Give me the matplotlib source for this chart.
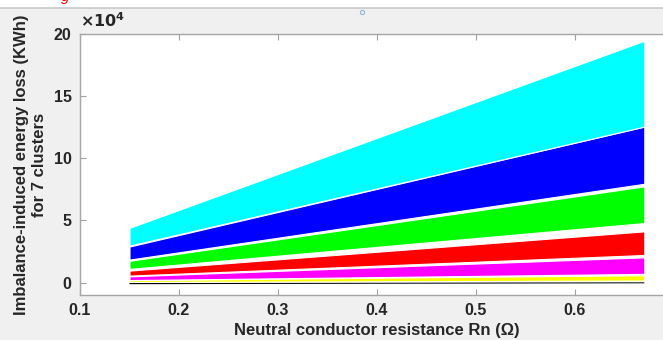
import matplotlib
matplotlib.use("Agg")
import matplotlib.pyplot as plt
from matplotlib.ticker import FuncFormatter
from matplotlib.lines import Line2D

# Neutral conductor resistance (Ohm)
rn = [0.15, 0.67]

# Energy-loss band boundaries (kWh) for each cluster, at rn endpoints
cluster_colors = ["black", "yellow", "magenta", "red", "lime", "blue", "cyan"]
lower = [
    [-1300, -600],    # black
    [500, 1600],      # yellow
    [2000, 7000],     # magenta
    [5600, 22200],    # red
    [11000, 47900],   # green
    [18500, 79500],   # blue
    [29700, 125500],  # cyan
]
upper = [
    [-300, 200],      # black
    [2000, 5900],     # yellow
    [5000, 20300],    # magenta
    [9600, 41200],    # red
    [17500, 77400],   # green
    [29000, 125500],  # blue
    [44000, 194600],  # cyan
]

xticks = [0.1, 0.2, 0.3, 0.4, 0.5, 0.6]
yticks = [0, 50000, 100000, 150000, 200000]

plt.rcParams["font.family"] = ["Liberation Sans", "DejaVu Sans"]
plt.rcParams["font.weight"] = "bold"

fig = plt.figure(figsize=(6.63, 3.40), dpi=100, facecolor="#f0f0f0")

# white top strip with separator line
fig.patches.append(plt.Rectangle((0, 1 - 7.5 / 340), 1, 7.5 / 340, transform=fig.transFigure,
                                 facecolor="white", edgecolor="none", zorder=0))
fig.lines.append(Line2D([0, 1], [1 - 7.5 / 340] * 2, transform=fig.transFigure,
                        color="#c8c8c8", lw=1.2))
fig.text(0.092, 1 - 1.0 / 340, "g", color="red", fontsize=11, fontstyle="italic",
         fontweight="normal", ha="left", va="baseline")
fig.lines.append(Line2D([362 / 663], [1 - 12 / 340], transform=fig.transFigure,
                        marker="o", ms=3, mfc="none", mec="#8fb4d9", mew=0.8))

ax = fig.add_axes([80 / 663, 45 / 340, 594 / 663, 261 / 340])
ax.set_facecolor("white")

for i, (c, lo, hi) in enumerate(zip(cluster_colors, lower, upper)):
    if c == "black":
        ax.fill_between(rn, lo, hi, facecolor=c, edgecolor="none", linewidth=0)
    else:
        ax.fill_between(rn, lo, hi, facecolor=c, edgecolor="white", linewidth=0.8)

ax.set_xlim(0.1, 0.7)
ax.set_ylim(-10000, 200000)
ax.set_xticks(xticks)
ax.set_yticks(yticks)
ax.xaxis.set_major_formatter(FuncFormatter(lambda v, p: f"{v:.1f}"))
ax.yaxis.set_major_formatter(FuncFormatter(lambda v, p: f"{v / 1e4:g}"))
ax.tick_params(direction="in", top=True, right=False, color="#a0a0a0", length=4,
               labelsize=11.5, labelcolor="#262626", pad=6)
for lab in ax.get_xticklabels() + ax.get_yticklabels():
    lab.set_fontweight("bold")
for name, s in ax.spines.items():
    s.set_color("#a6a6a6")
    s.set_linewidth(1.0)
ax.spines["right"].set_visible(False)

ax.text(0.0, 1.015, r"$\times\mathbf{10^{4}}$", transform=ax.transAxes, fontsize=11.5,
        color="#262626", ha="left", va="bottom")
ax.set_xlabel("Neutral conductor resistance Rn (\u03a9)", fontsize=12, fontweight="bold",
              color="#262626", labelpad=3)
ax.set_ylabel("Imbalance-induced energy loss (KWh)\nfor 7 clusters", fontsize=12,
              fontweight="bold", color="#262626", labelpad=5, linespacing=1.25)

fig.savefig("out.png", dpi=100, facecolor=fig.get_facecolor())
